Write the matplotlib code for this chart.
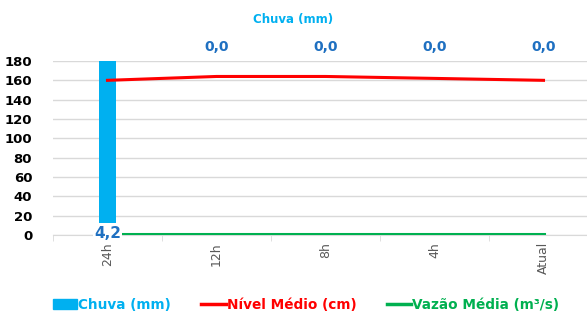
import matplotlib
matplotlib.use('Agg')
import matplotlib.pyplot as plt
import numpy as np
from matplotlib.patches import Patch
from matplotlib.lines import Line2D

# Data
categorias = ['24h', '12h', '8h', '4h', 'Atual']
chuva = [4.2, 0.0, 0.0, 0.0, 0.0]
nivel = [160, 164, 164, 162, 160]
vazao = [1, 1, 1, 1, 1]

cor_chuva = '#00b0f0'
cor_nivel = '#ff0000'
cor_vazao = '#00b050'
cor_rotulo = '#1f70c1'

fig = plt.figure(figsize=(5.87, 3.11), dpi=100)
ax = fig.add_axes([53/587, 1 - 235/311, 545/587, 174/311])
x = np.arange(len(categorias))

# secondary axis for rain, inverted (bars hang from the top)
ax2 = ax.twinx()
ax2.bar(x, chuva, width=0.165, color=cor_chuva, zorder=2)
ax2.set_ylim(4.5, 0)
ax2.set_yticks([])
for s in ax2.spines.values():
    s.set_visible(False)
for xi, v in zip(x, chuva):
    txt = f'{v:.1f}'.replace('.', ',')
    if v > 0:
        ax2.text(xi, v + 0.07, txt, ha='center', va='top', color=cor_rotulo,
                 fontsize=11, fontweight='bold',
                 bbox=dict(facecolor='white', edgecolor='none', pad=0.5), zorder=5)
    else:
        ax2.text(xi, -0.18, txt, ha='center', va='bottom', color=cor_rotulo,
                 fontsize=10, fontweight='bold', clip_on=False)

ax.set_zorder(1)
ax2.set_zorder(ax.get_zorder() + 1)
ax.patch.set_visible(False)
# lines drawn on the rain axis so they sit on top of the bar, scaled from 0-180
escala = lambda v: 4.5 - np.array(v) / 180 * 4.5
ax2.plot(x, escala(nivel), color=cor_nivel, lw=2.2, zorder=3)
ax2.plot(x, escala(vazao), color=cor_vazao, lw=2.2, zorder=3)

ax.set_xlim(-0.5, 4.5)
ax.set_ylim(0, 180)
ax.set_yticks(np.arange(0, 181, 20))
ax.set_yticklabels([str(v) for v in range(0, 181, 20)], fontsize=9.5, fontweight='bold')
ax.tick_params(axis='y', length=0, pad=15)
ax.set_xticks(x)
ax.set_xticklabels(categorias, rotation=90, fontsize=9, color='#595959')
ax.set_xticks(np.arange(-0.5, 5, 1), minor=True)
ax.tick_params(axis='x', which='major', length=0, pad=5)
ax.tick_params(axis='x', which='minor', length=4, color='#d9d9d9')
ax.grid(axis='y', color='#d9d9d9', lw=1)
for s in ['top', 'right', 'left']:
    ax.spines[s].set_visible(False)
ax.spines['bottom'].set_color('#d9d9d9')

fig.text(0.5, 1 - 20/311, 'Chuva (mm)', ha='center', va='center',
         color=cor_chuva, fontsize=8.5, fontweight='bold')

handles = [Patch(color=cor_chuva),
           Line2D([], [], color=cor_nivel, lw=2.5),
           Line2D([], [], color=cor_vazao, lw=2.5)]
labels = ['Chuva (mm)', 'Nível Médio (cm)', 'Vazão Média (m³/s)']
leg = fig.legend(handles, labels, loc='center', bbox_to_anchor=(306/587, 1 - 305/311),
                 ncol=3, frameon=False, handlelength=1.8, handletextpad=0.1,
                 columnspacing=2.2, prop={'size': 9.8, 'weight': 'bold'})
for t, c in zip(leg.get_texts(), [cor_chuva, cor_nivel, cor_vazao]):
    t.set_color(c)

fig.savefig('out.png', dpi=100)
